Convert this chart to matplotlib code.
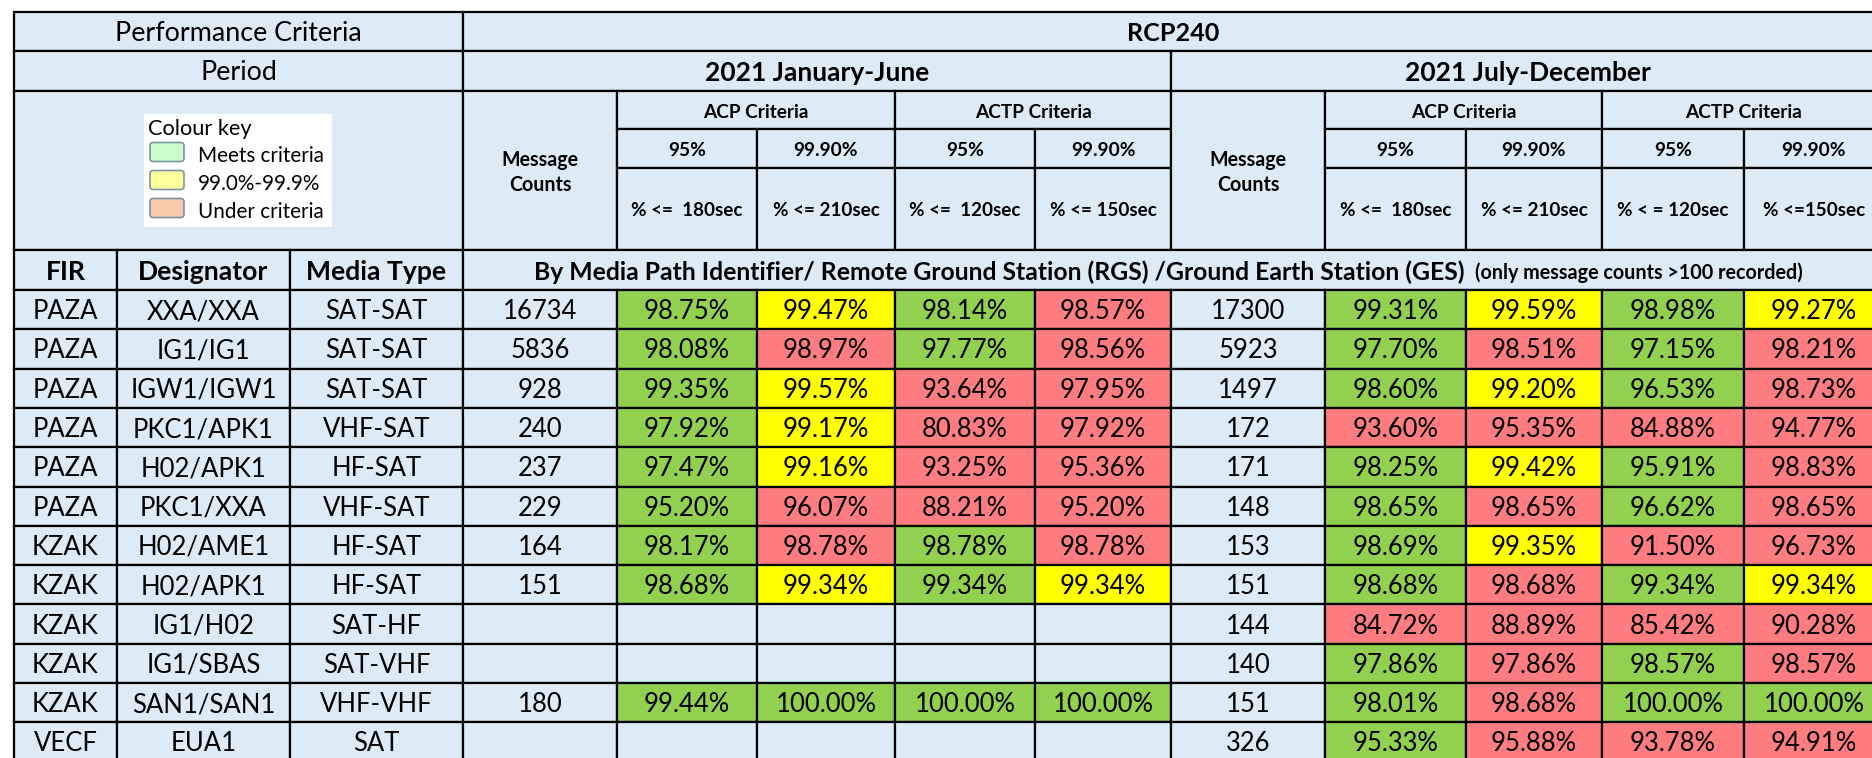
import matplotlib
matplotlib.use("Agg")
import matplotlib.pyplot as plt
from matplotlib.patches import Rectangle, FancyBboxPatch

plt.rcParams['font.family'] = ['Lato', 'DejaVu Sans']

# ---- data ----
fir = ['PAZA', 'PAZA', 'PAZA', 'PAZA', 'PAZA', 'PAZA', 'KZAK', 'KZAK', 'KZAK', 'KZAK', 'KZAK', 'VECF']
designator = ['XXA/XXA', 'IG1/IG1', 'IGW1/IGW1', 'PKC1/APK1', 'H02/APK1', 'PKC1/XXA',
              'H02/AME1', 'H02/APK1', 'IG1/H02', 'IG1/SBAS', 'SAN1/SAN1', 'EUA1']
media_type = ['SAT-SAT', 'SAT-SAT', 'SAT-SAT', 'VHF-SAT', 'HF-SAT', 'VHF-SAT',
              'HF-SAT', 'HF-SAT', 'SAT-HF', 'SAT-VHF', 'VHF-VHF', 'SAT']

jan_counts = [16734, 5836, 928, 240, 237, 229, 164, 151, None, None, 180, None]
jan_acp95 = [98.75, 98.08, 99.35, 97.92, 97.47, 95.20, 98.17, 98.68, None, None, 99.44, None]
jan_acp999 = [99.47, 98.97, 99.57, 99.17, 99.16, 96.07, 98.78, 99.34, None, None, 100.00, None]
jan_actp95 = [98.14, 97.77, 93.64, 80.83, 93.25, 88.21, 98.78, 99.34, None, None, 100.00, None]
jan_actp999 = [98.57, 98.56, 97.95, 97.92, 95.36, 95.20, 98.78, 99.34, None, None, 100.00, None]

jul_counts = [17300, 5923, 1497, 172, 171, 148, 153, 151, 144, 140, 151, 326]
jul_acp95 = [99.31, 97.70, 98.60, 93.60, 98.25, 98.65, 98.69, 98.68, 84.72, 97.86, 98.01, 95.33]
jul_acp999 = [99.59, 98.51, 99.20, 95.35, 99.42, 98.65, 99.35, 98.68, 88.89, 97.86, 98.68, 95.88]
jul_actp95 = [98.98, 97.15, 96.53, 84.88, 95.91, 96.62, 91.50, 99.34, 85.42, 98.57, 100.00, 93.78]
jul_actp999 = [99.27, 98.21, 98.73, 94.77, 98.83, 98.65, 96.73, 99.34, 90.28, 98.57, 100.00, 94.91]

periods = ['2021 January-June', '2021 July-December']
targets = [95, 99.9, 95, 99.9]
target_labels = ['95%', '99.90%', '95%', '99.90%']
jan_time_labels = ['% <=  180sec', '% <= 210sec', '% <=  120sec', '% <= 150sec']
jul_time_labels = ['% <=  180sec', '% <= 210sec', '% < = 120sec', '% <=150sec']
key_labels = ['Meets criteria', '99.0%-99.9%', 'Under criteria']
path_title = 'By Media Path Identifier/ Remote Ground Station (RGS) /Ground Earth Station (GES)'
path_note = '(only message counts >100 recorded)'

# ---- style / layout ----
BLUE = '#DDEBF7'
GREEN = '#92D050'
YELLOW = '#FFFF00'
RED = '#FF7C80'
KEY_COLORS = ['#CCFFCC', '#FFFF99', '#F8CBAD']
LW = 1.6

col_w = [103, 173, 173, 154, 140, 138, 140, 136, 154, 141, 136, 142, 140]
x_edges = [14]
for w in col_w:
    x_edges.append(x_edges[-1] + w)
y_head = [12, 51, 91, 129, 168, 250, 290]
row_h = 39.3

fig = plt.figure(figsize=(18.72, 7.58), dpi=100)
ax = fig.add_axes([0, 0, 1, 1])
ax.set_xlim(0, 1872)
ax.set_ylim(758, 0)
ax.axis('off')
renderer = fig.canvas.get_renderer()


def size_for(sample, width_px, weight='normal'):
    # font size (pt) that makes sample about width_px wide
    t = ax.text(0, 0, sample, fontsize=10, fontweight=weight)
    w = t.get_window_extent(renderer).width
    t.remove()
    return 10 * width_px / w


FS_DATA = size_for('98.75%', 86)
FS_TITLE = size_for('Performance Criteria', 247)
FS_RCP = size_for('RCP240', 92, 'bold')
FS_PERIOD = size_for('2021 January-June', 225, 'bold')
FS_CRIT = size_for('ACP Criteria', 105, 'bold')
FS_PCT = size_for('99.90%', 65, 'bold')
FS_TIME = size_for('% <=  180sec', 112, 'bold')
FS_MSG = size_for('Message', 77, 'bold')
FS_COLHEAD = size_for('Designator', 130, 'bold')
FS_PATH = size_for(path_title, 934, 'bold')
FS_NOTE = size_for(path_note, 329, 'bold')
FS_KEY = size_for('Meets criteria', 126)
FS_KEYHEAD = size_for('Colour key', 104)


def cell(c0, c1, y0, y1, text='', fc=BLUE, size=None, weight='normal', dy=2):
    xa, xb = x_edges[c0], x_edges[c1]
    ax.add_patch(Rectangle((xa, y0), xb - xa, y1 - y0, facecolor=fc,
                           edgecolor='black', linewidth=LW))
    if text:
        ax.text((xa + xb) / 2, (y0 + y1) / 2 + dy, text, ha='center', va='center',
                fontsize=size or FS_DATA, fontweight=weight, color='black',
                linespacing=1.35)


def grade(v, t):
    if v is None:
        return BLUE
    if v >= t:
        return GREEN
    if t > 99 and v >= 99.0:
        return YELLOW
    return RED


ncol = len(col_w)
# header
cell(0, 3, y_head[0], y_head[1], 'Performance Criteria', size=FS_TITLE)
cell(3, ncol, y_head[0], y_head[1], 'RCP240', size=FS_RCP, weight='bold')
cell(0, 3, y_head[1], y_head[2], 'Period', size=FS_TITLE)
cell(0, 3, y_head[2], y_head[5])
blocks = [(3, jan_time_labels), (8, jul_time_labels)]
for p, (s, tl) in zip(periods, blocks):
    cell(s, s + 5, y_head[1], y_head[2], p, size=FS_PERIOD, weight='bold')
    cell(s, s + 1, y_head[2], y_head[5], 'Message\nCounts', size=FS_MSG, weight='bold')
    cell(s + 1, s + 3, y_head[2], y_head[3], 'ACP Criteria', size=FS_CRIT, weight='bold')
    cell(s + 3, s + 5, y_head[2], y_head[3], 'ACTP Criteria', size=FS_CRIT, weight='bold')
    for k in range(4):
        cell(s + 1 + k, s + 2 + k, y_head[3], y_head[4], target_labels[k], size=FS_PCT, weight='bold')
        cell(s + 1 + k, s + 2 + k, y_head[4], y_head[5], tl[k], size=FS_TIME, weight='bold')

cell(0, 1, y_head[5], y_head[6], 'FIR', size=FS_COLHEAD, weight='bold')
cell(1, 2, y_head[5], y_head[6], 'Designator', size=FS_COLHEAD, weight='bold')
cell(2, 3, y_head[5], y_head[6], 'Media Type', size=FS_COLHEAD, weight='bold')
cell(3, ncol, y_head[5], y_head[6])
mid_y = (y_head[5] + y_head[6]) / 2 + 2
ax.text(534, mid_y, path_title, ha='left', va='center', fontsize=FS_PATH, fontweight='bold')
ax.text(1475, mid_y + 1, path_note, ha='left', va='center', fontsize=FS_NOTE, fontweight='bold')

# colour key
ax.add_patch(Rectangle((144, 114), 188, 113, facecolor='white', edgecolor='none'))
ax.text(148, 129, 'Colour key', ha='left', va='center', fontsize=FS_KEYHEAD)
for i, (lab, kc) in enumerate(zip(key_labels, KEY_COLORS)):
    yc = 152 + i * 28
    ax.add_patch(FancyBboxPatch((150, yc - 9.5), 34, 19, boxstyle='round,pad=0,rounding_size=3',
                                facecolor=kc, edgecolor='#7F93A8', linewidth=1.2))
    ax.text(198, yc + 4, lab, ha='left', va='center', fontsize=FS_KEY)

# data rows
jan_vals = [jan_acp95, jan_acp999, jan_actp95, jan_actp999]
jul_vals = [jul_acp95, jul_acp999, jul_actp95, jul_actp999]
for i in range(len(fir)):
    y0 = y_head[6] + i * row_h
    y1 = y0 + row_h
    cell(0, 1, y0, y1, fir[i])
    cell(1, 2, y0, y1, designator[i])
    cell(2, 3, y0, y1, media_type[i])
    for s, counts, vals in [(3, jan_counts, jan_vals), (8, jul_counts, jul_vals)]:
        cell(s, s + 1, y0, y1, '' if counts[i] is None else str(counts[i]))
        for k in range(4):
            v = vals[k][i]
            cell(s + 1 + k, s + 2 + k, y0, y1, '' if v is None else f'{v:.2f}%',
                 fc=grade(v, targets[k]))

fig.savefig('out.png', dpi=100, facecolor='white')
